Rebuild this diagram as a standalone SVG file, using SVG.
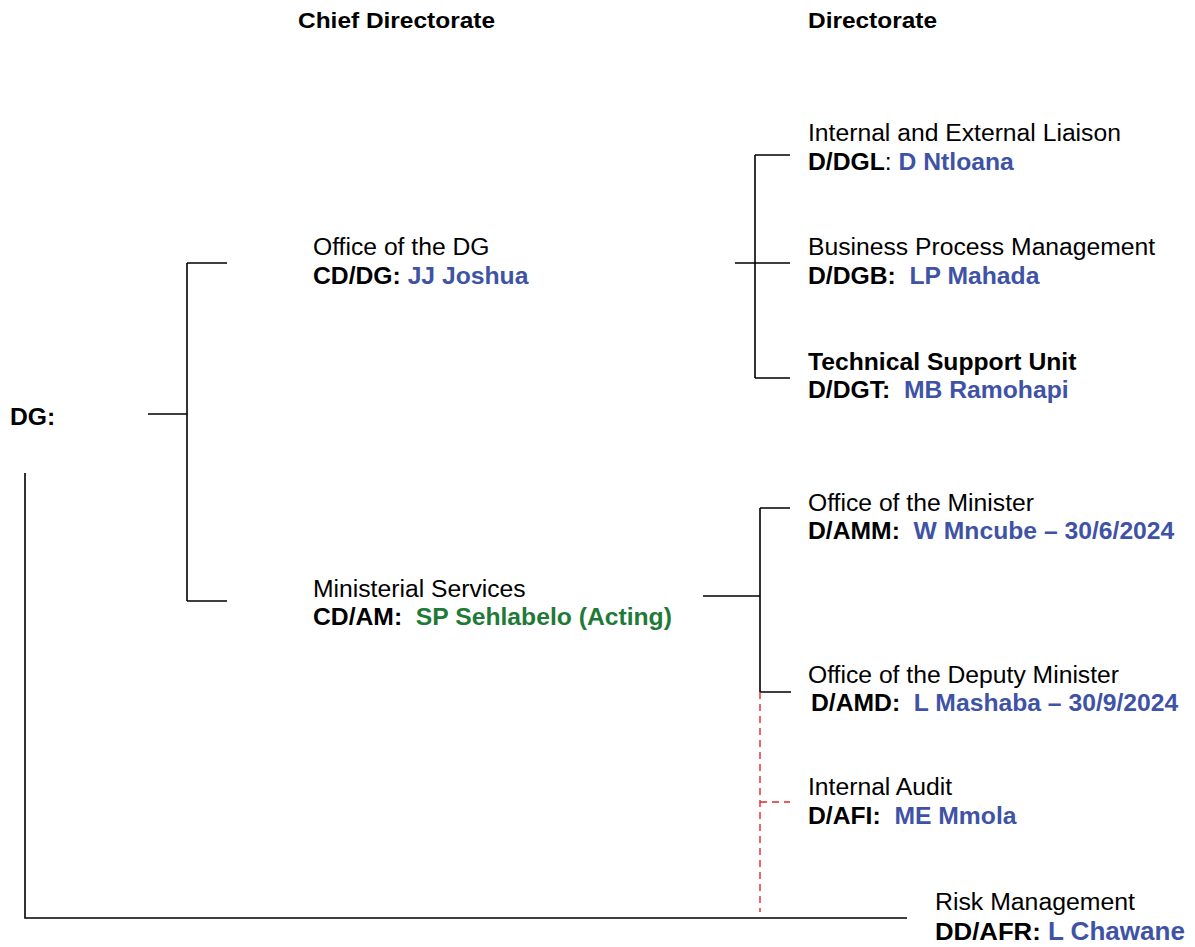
<svg xmlns="http://www.w3.org/2000/svg" width="1195" height="947" viewBox="0 0 1195 947">
  <style>
    text { font-family: "Liberation Sans", Arial, sans-serif; font-size: 24.7px; fill: #000; white-space: pre; }
    .b { font-weight: bold; }
    .blue { fill: #3F53A6; font-weight: bold; }
    .green { fill: #1F7A38; font-weight: bold; }
    .hdr { font-weight: bold; font-size: 22px; }
    .ln { stroke: #000; stroke-width: 1.6; fill: none; }
    .dash { stroke: #E8262C; stroke-width: 1.4; stroke-dasharray: 7 5; fill: none; }
  </style>
  <rect width="1195" height="947" fill="#fff"/>

  <!-- column headings -->
  <g id="headings">
    <text class="hdr" x="298" y="28" textLength="197" lengthAdjust="spacingAndGlyphs">Chief Directorate</text>
    <text class="hdr" x="808" y="28" textLength="129" lengthAdjust="spacingAndGlyphs">Directorate</text>
  </g>

  <!-- connectors -->
  <g id="connectors">
    <path class="ln" d="M148 414 H187 M187 263 V601 M187 263 H227 M187 601 H227"/>
    <path class="ln" d="M25 473 V918 H907"/>
    <path class="ln" d="M735 263 H790 M755 155 V378 M755 155 H790 M755 378 H790"/>
    <path class="ln" d="M703 596 H760 M760 508 V692 M760 508 H790 M760 692 H791"/>
    <path class="dash" d="M760 692 V912 M760 802 H790"/>
  </g>

  <g id="dg">
    <text class="b" x="10" y="425">DG:</text>
  </g>

  <g id="office-dg">
    <text x="313" y="255">Office of the DG</text>
    <text class="b" x="313" y="284" xml:space="preserve">CD/DG: <tspan class="blue">JJ Joshua</tspan></text>
  </g>

  <g id="ministerial-services">
    <text x="313" y="597">Ministerial Services</text>
    <text class="b" x="313" y="625" xml:space="preserve">CD/AM:  <tspan class="green">SP Sehlabelo (Acting)</tspan></text>
  </g>

  <g id="liaison">
    <text x="808" y="141">Internal and External Liaison</text>
    <text class="b" x="808" y="170" xml:space="preserve">D/DGL<tspan font-weight="normal">:</tspan> <tspan class="blue">D Ntloana</tspan></text>
  </g>

  <g id="business-process">
    <text x="808" y="255">Business Process Management</text>
    <text class="b" x="808" y="284" xml:space="preserve">D/DGB:  <tspan class="blue">LP Mahada</tspan></text>
  </g>

  <g id="technical-support">
    <text class="b" x="808" y="370">Technical Support Unit</text>
    <text class="b" x="808" y="398" xml:space="preserve">D/DGT:  <tspan class="blue">MB Ramohapi</tspan></text>
  </g>

  <g id="office-minister">
    <text x="808" y="511">Office of the Minister</text>
    <text class="b" x="808" y="539" xml:space="preserve">D/AMM:  <tspan class="blue">W Mncube – 30/6/2024</tspan></text>
  </g>

  <g id="office-deputy-minister">
    <text x="808" y="683">Office of the Deputy Minister</text>
    <text class="b" x="811" y="711" xml:space="preserve">D/AMD:  <tspan class="blue">L Mashaba – 30/9/2024</tspan></text>
  </g>

  <g id="internal-audit">
    <text x="808" y="795">Internal Audit</text>
    <text class="b" x="808" y="824" xml:space="preserve">D/AFI:  <tspan class="blue">ME Mmola</tspan></text>
  </g>

  <g id="risk-management">
    <text x="935" y="910" font-size="22px" textLength="200" lengthAdjust="spacingAndGlyphs">Risk Management</text>
    <text class="b" x="935" y="940" font-size="22px" textLength="250" lengthAdjust="spacingAndGlyphs" xml:space="preserve">DD/AFR: <tspan class="blue" font-size="25px">L Chawane</tspan></text>
  </g>
</svg>
